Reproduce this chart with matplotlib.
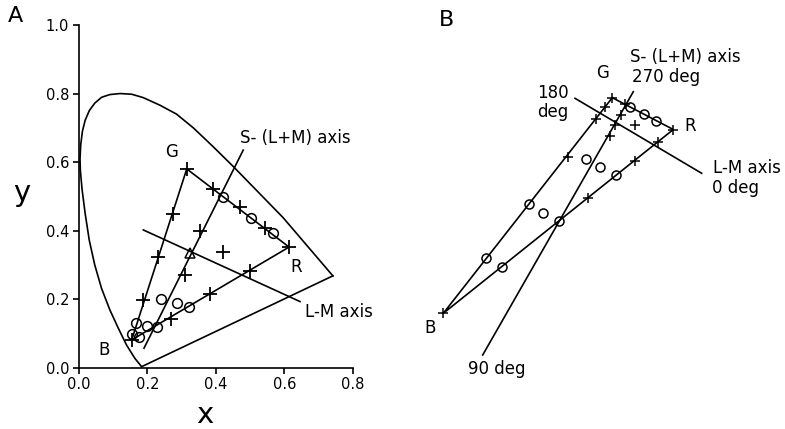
import matplotlib
matplotlib.use("Agg")
import matplotlib.pyplot as plt

plt.rcParams['font.family'] = ['DejaVu Sans']

# ---- panel A: CIE xy chromaticity diagram ----
# spectrum locus (x, y)
locus_x = [0.183, 0.1635, 0.139, 0.115, 0.0905, 0.066, 0.046, 0.030, 0.018, 0.009, 0.004,
           0.003, 0.005, 0.010, 0.018, 0.030, 0.046, 0.066, 0.090, 0.12, 0.154, 0.188,
           0.2365, 0.285, 0.334, 0.392, 0.451, 0.5965, 0.742]
locus_y = [0.003, 0.027, 0.066, 0.115, 0.168, 0.231, 0.300, 0.372, 0.450, 0.520, 0.575,
           0.610, 0.650, 0.690, 0.722, 0.750, 0.772, 0.789, 0.797, 0.800, 0.798, 0.788,
           0.766, 0.740, 0.700, 0.645, 0.587, 0.438, 0.268]

# gamut corners G, R, B
gamut_x = [0.315, 0.614, 0.154]
gamut_y = [0.580, 0.352, 0.081]

# cardinal axes (end points)
s_axis_x = [0.190, 0.480]
s_axis_y = [0.057, 0.635]
lm_axis_x = [0.188, 0.646]
lm_axis_y = [0.402, 0.193]

# test colours (+) and (o)
plus_x = [0.274, 0.232, 0.188, 0.393, 0.471, 0.544, 0.354, 0.310, 0.268, 0.383, 0.500, 0.421]
plus_y = [0.448, 0.324, 0.198, 0.522, 0.468, 0.407, 0.400, 0.271, 0.142, 0.214, 0.281, 0.339]
circ_x = [0.422, 0.503, 0.566, 0.322, 0.229, 0.198, 0.241, 0.285, 0.167, 0.154, 0.176]
circ_y = [0.499, 0.438, 0.393, 0.177, 0.120, 0.122, 0.200, 0.189, 0.130, 0.099, 0.089]
tri_x = [0.324]
tri_y = [0.335]

# ---- panel B: same stimuli in the cone-contrast plane (picture units) ----
gamut_bx = [612.3, 673.3, 443.3]
gamut_by = [97.7, 129.5, 313.3]
s_axis_bx = [482.7, 633.3]
s_axis_by = [355.0, 91.7]
lm_axis_bx = [575.0, 701.7]
lm_axis_by = [98.3, 173.3]
plus_bx = [605.0, 595.5, 568.3, 624.5, 620.5, 614.5, 609.5, 587.5, 634.5, 658.0, 635.0]
plus_by = [107.0, 119.0, 156.5, 104.0, 114.5, 125.0, 135.5, 198.3, 160.7, 141.5, 125.0]
circ_bx = [528.8, 486.4, 501.7, 559.2, 616.4, 630.0, 643.5, 656.0, 586.0, 600.0, 543.3]
circ_by = [204.0, 258.3, 266.7, 220.7, 175.0, 107.0, 114.0, 120.5, 159.3, 167.3, 212.7]

fig = plt.figure(figsize=(7.85, 4.29), dpi=100)

ax = fig.add_axes([79 / 785, 61.3 / 429, 273.7 / 785, 342.7 / 429])
lw = 1.2
ax.plot(locus_x, locus_y, color='k', lw=lw)
ax.plot([locus_x[0], locus_x[-1]], [locus_y[0], locus_y[-1]], color='k', lw=lw)
ax.plot(gamut_x + gamut_x[:1], gamut_y + gamut_y[:1], color='k', lw=lw)
ax.plot(s_axis_x, s_axis_y, color='k', lw=lw)
ax.plot(lm_axis_x, lm_axis_y, color='k', lw=lw)
ax.plot(gamut_x + plus_x, gamut_y + plus_y, ls='none', marker='+', ms=10, mew=1.3, color='k')
ax.plot(circ_x, circ_y, ls='none', marker='o', ms=7, mfc='none', mew=1.1, color='k')
ax.plot(tri_x, tri_y, ls='none', marker='^', ms=7, mfc='none', mew=1.1, color='k')

ax.set_xlim(0, 0.8)
ax.set_ylim(0, 1.0)
ax.set_xticks([0.0, 0.2, 0.4, 0.6, 0.8])
ax.set_yticks([0.0, 0.2, 0.4, 0.6, 0.8, 1.0])
ax.xaxis.set_major_formatter(matplotlib.ticker.FormatStrFormatter('%.1f'))
ax.yaxis.set_major_formatter(matplotlib.ticker.FormatStrFormatter('%.1f'))
for side in ['top', 'right']:
    ax.spines[side].set_visible(False)
for side in ['left', 'bottom']:
    ax.spines[side].set_linewidth(1.2)
ax.tick_params(direction='out', length=4, width=1.2, labelsize=10.5, pad=3)
ax.set_xlabel('x', fontsize=21, va='center')
ax.set_ylabel('y', fontsize=21, rotation=0, va='center', ha='center')
ax.xaxis.set_label_coords(0.460, -0.138)
ax.yaxis.set_label_coords(-0.209, 0.509)

ax.text(0.2706, 0.630, 'G', fontsize=12, ha='center', va='center')
ax.text(0.6356, 0.2945, 'R', fontsize=12, ha='center', va='center')
ax.text(0.073, 0.052, 'B', fontsize=12, ha='center', va='center')
ax.text(0.472, 0.671, 'S- (L+M) axis', fontsize=12, ha='left', va='center')
ax.text(0.660, 0.163, 'L-M axis', fontsize=12, ha='left', va='center')

# panel B drawn in its own frame, no axes shown
bx = fig.add_axes([400 / 785, 0, 385 / 785, 1])
bx.set_xlim(400, 785)
bx.set_ylim(429, 0)
bx.axis('off')
bx.plot(gamut_bx + gamut_bx[:1], gamut_by + gamut_by[:1], color='k', lw=lw)
bx.plot(s_axis_bx, s_axis_by, color='k', lw=lw)
bx.plot(lm_axis_bx, lm_axis_by, color='k', lw=lw)
bx.plot(gamut_bx + plus_bx, gamut_by + plus_by, ls='none', marker='+', ms=6.5, mew=1.1, color='k')
bx.plot(circ_bx, circ_by, ls='none', marker='o', ms=6.5, mfc='none', mew=1.1, color='k')

bx.text(602.3, 73.3, 'G', fontsize=12, ha='center', va='center')
bx.text(630, 56.7, 'S- (L+M) axis', fontsize=12, ha='left', va='center')
bx.text(631.7, 77.3, '270 deg', fontsize=12, ha='left', va='center')
bx.text(537, 93.3, '180', fontsize=12, ha='left', va='center')
bx.text(537, 112.3, 'deg', fontsize=12, ha='left', va='center')
bx.text(690, 126, 'R', fontsize=12, ha='center', va='center')
bx.text(713.3, 168.3, 'L-M axis', fontsize=12, ha='left', va='center')
bx.text(711.7, 188.3, '0 deg', fontsize=12, ha='left', va='center')
bx.text(468.3, 369.3, '90 deg', fontsize=12, ha='left', va='center')
bx.text(430, 328.3, 'B', fontsize=12, ha='center', va='center')

fig.text(15 / 785, 1 - 16 / 429, 'A', fontsize=16, ha='center', va='center')
fig.text(446.7 / 785, 1 - 20 / 429, 'B', fontsize=16, ha='center', va='center')

fig.savefig('out.png', dpi=100)
